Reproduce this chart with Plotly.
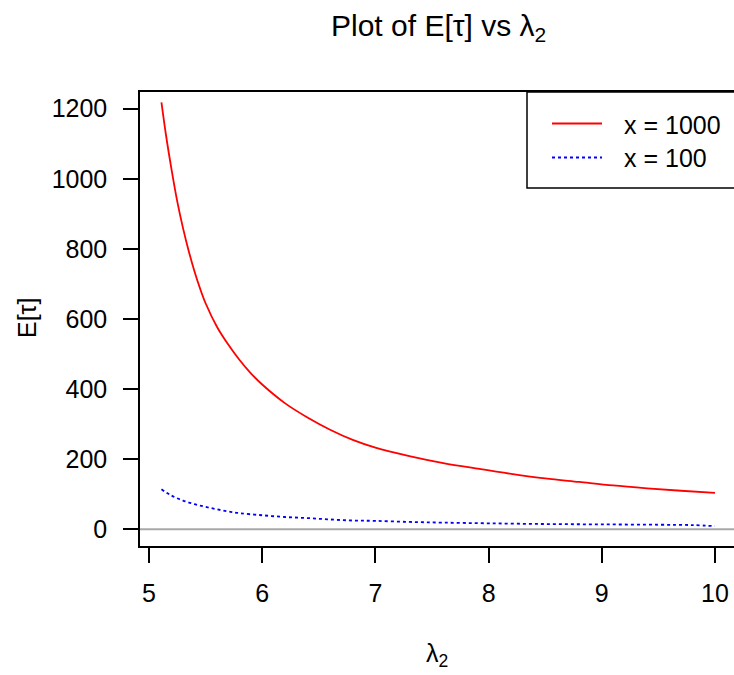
import plotly.graph_objects as go

# --- data ---
lam_1000 = [5.11, 5.15, 5.2, 5.25, 5.3, 5.35, 5.4, 5.45, 5.5, 5.6, 5.7, 5.8, 5.9, 6.0,
            6.2, 6.4, 6.6, 6.8, 7.0, 7.3, 7.6, 7.9, 8.2, 8.5, 8.8, 9.1, 9.4, 9.7, 10.0]
e_tau_1000 = [1218, 1125, 1025, 935, 860, 795, 738, 688, 645, 578, 527, 483, 445, 413,
              360, 319, 284, 255, 233, 209, 189, 173, 158, 145, 135, 125, 117, 110, 104]

lam_100 = [5.11, 5.2, 5.3, 5.4, 5.5, 5.6, 5.7, 5.8, 6.0, 6.2, 6.4, 6.6, 6.8, 7.0,
           7.3, 7.6, 8.0, 8.5, 9.0, 9.5, 9.8, 10.0]
e_tau_100 = [114, 96, 82, 72, 64, 57, 51, 46, 40, 35, 32, 28, 25, 24,
             21, 19, 17, 15, 14, 13, 12, 9]

legend_labels = ["x = 1000", "x = 100"]
x_ticks = [5, 6, 7, 8, 9, 10]
y_ticks = [0, 200, 400, 600, 800, 1000, 1200]

FONT = "Liberation Sans, Arial, sans-serif"
FS = 25
W, H = 734, 675
L, R, T, B = 140, 734, 92, 546   # plot box in pixels

def px_x(p):
    return (p - L) / (R - L)

def px_y(p):
    return (B - p) / (B - T)

fig = go.Figure()
fig.add_trace(go.Scatter(x=lam_1000, y=e_tau_1000, mode="lines", line_shape="spline",
                         line=dict(color="#FF0000", width=1.8), showlegend=False))
fig.add_trace(go.Scatter(x=lam_100, y=e_tau_100, mode="lines", line_shape="spline",
                         line=dict(color="#0000FF", width=1.8, dash="dot"), showlegend=False))

shapes = [
    # grey zero line
    dict(type="line", xref="paper", yref="y", x0=0, x1=1, y0=0, y1=0,
         line=dict(color="#A8A8A8", width=2), layer="below"),
    # legend box
    dict(type="rect", xref="paper", yref="paper", x0=px_x(527), x1=1.02,
         y0=px_y(188), y1=1, line=dict(color="black", width=1.5), fillcolor="white"),
    dict(type="line", xref="paper", yref="paper", x0=px_x(552), x1=px_x(602),
         y0=px_y(123.5), y1=px_y(123.5), line=dict(color="#FF0000", width=1.8)),
    dict(type="line", xref="paper", yref="paper", x0=px_x(552), x1=px_x(602),
         y0=px_y(157.5), y1=px_y(157.5), line=dict(color="#0000FF", width=1.8, dash="dot")),
]

def ann(text, x, y, size=FS, **kw):
    return dict(text=text, xref="paper", yref="paper", x=px_x(x), y=px_y(y),
                showarrow=False, yanchor="middle",
                font=dict(size=size, color="black", family=FONT), **kw)

annotations = [
    ann(legend_labels[0], 622, 125, xanchor="left"),
    ann(legend_labels[1], 622, 158, xanchor="left"),
    ann("λ<sub>2</sub>", 437, 655, xanchor="center"),
    ann("E[τ]", 27, 318, xanchor="center", textangle=-90),
    ann("Plot of E[τ] vs λ<sub>2</sub>", 438, 27, size=30, xanchor="center"),
]

fig.update_layout(
    width=W, height=H,
    margin=dict(l=L, r=W - R, t=T, b=H - B, pad=0),
    paper_bgcolor="white", plot_bgcolor="white",
    font=dict(family=FONT, size=FS, color="black"),
    shapes=shapes, annotations=annotations,
    xaxis=dict(range=[4.9205, 10.168], tickvals=x_ticks, ticktext=[str(v) for v in x_ticks],
               showgrid=False, zeroline=False, showline=True, linecolor="black", linewidth=1.5,
               mirror=True, ticks="outside", ticklen=15, tickwidth=1.5, tickcolor="black",
               ticklabelstandoff=9, tickfont=dict(size=FS)),
    yaxis=dict(range=[-47.7, 1247.7], tickvals=y_ticks, ticktext=[str(v) for v in y_ticks],
               showgrid=False, zeroline=False, showline=True, linecolor="black", linewidth=1.5,
               mirror=False, ticks="outside", ticklen=15, tickwidth=1.5, tickcolor="black",
               ticklabelstandoff=11, tickfont=dict(size=FS)),
)

fig.write_html("out.html")
